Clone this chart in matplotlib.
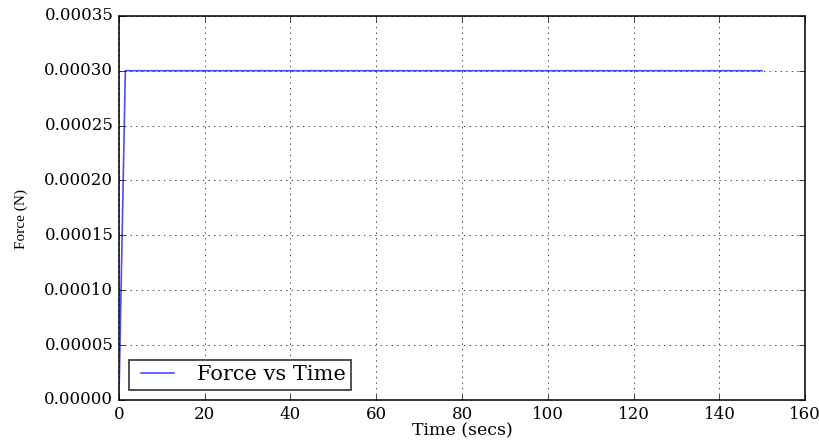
import numpy as np
import matplotlib.pyplot as plt

plt.style.use('classic')

# force vs time data
time = [0, 1.5, 150]
force = [0, 0.0003, 0.0003]

fig = plt.figure(figsize=(8.2, 4.4), dpi=100, facecolor='white')
ax = fig.add_axes([0.145, 0.091, 0.837, 0.873])

ax.plot(time, force, color='blue', lw=1.2, alpha=0.7, label='Force vs Time')

ax.set_xlim(0, 160)
ax.set_ylim(0, 0.00035)
ax.set_xticks(np.arange(0, 161, 20))
ax.set_yticks(np.arange(0, 0.000351, 0.00005))
ax.yaxis.set_major_formatter(plt.FormatStrFormatter('%.5f'))
ax.tick_params(labelsize=12)
for lab in ax.get_xticklabels() + ax.get_yticklabels():
    lab.set_family('DejaVu Serif')
for sp in ax.spines.values():
    sp.set_linewidth(1.4)
    sp.set_color('#333333')

ax.set_xlabel('Time (secs)', family='DejaVu Serif', fontsize=12.5, labelpad=0)
ax.set_ylabel('Force (N)', family='Liberation Serif', fontsize=11)
ax.yaxis.set_label_coords(-0.132, 0.47)
ax.grid(True)

leg = ax.legend(loc='lower left', prop={'family': 'DejaVu Serif', 'size': 15},
                fancybox=False, borderaxespad=0.5, handlelength=2.2,
                borderpad=0.25)
leg.get_frame().set_edgecolor('#333333')
leg.get_frame().set_linewidth(1.2)

fig.savefig('out.png', dpi=100, facecolor='white')
